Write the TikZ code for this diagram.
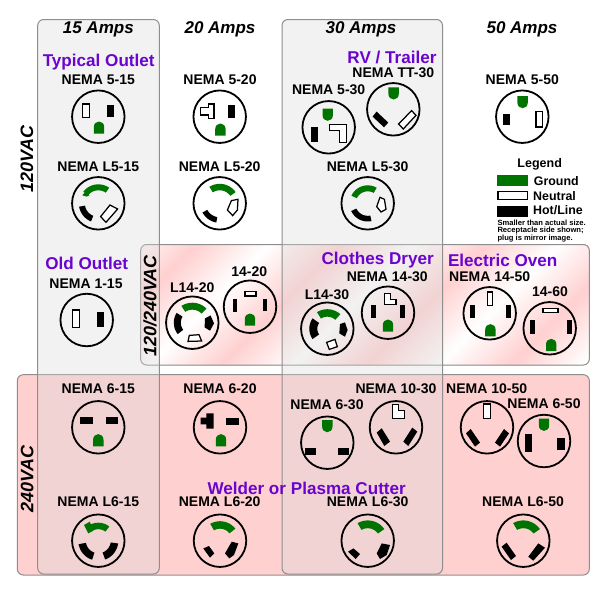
\documentclass[tikz,border=0pt]{standalone}
\usepackage{fontspec}
\setmainfont{Liberation Sans}
\definecolor{gndc}{HTML}{007400}
\definecolor{purp}{HTML}{6A04CE}
\definecolor{pinkc}{HTML}{FFD0D0}
\definecolor{edgec}{HTML}{8E8E8E}
\definecolor{colc}{HTML}{D9D9D9}
\tikzset{
  hot/.style={fill=black},
  neu/.style={draw=black,fill=white,line width=1.25pt,line join=miter},
  gnd/.style={fill=gndc},
  outletc/.style={draw=black,line width=1.8pt,circle,minimum size=52.5pt,inner sep=0pt,outer sep=0pt},
  lab/.style={font=\fontsize{14}{14}\selectfont\bfseries,inner sep=0pt,text=black},
  head/.style={font=\fontsize{17}{17}\selectfont\bfseries\itshape,inner sep=0pt},
  volt/.style={font=\fontsize{18}{18}\selectfont\bfseries\itshape,inner sep=0pt,rotate=90},
  use/.style={font=\fontsize{17.1}{17.1}\selectfont\bfseries,inner sep=0pt,text=purp},
  leg/.style={font=\fontsize{12.4}{12.4}\selectfont\bfseries,inner sep=0pt,anchor=west},
  note/.style={font=\fontsize{7.6}{7.6}\selectfont\bfseries,inner sep=0pt,anchor=west},
  region/.style={draw=edgec,line width=1pt,rounded corners=6pt},
  column/.style={fill=colc,fill opacity=.34,draw=edgec,line width=1pt,rounded corners=6pt}
}
\newcommand{\Outlet}[4]{\node[outletc] (#1) at (#2,#3) {};\begin{scope}[shift={(#2,#3)}]#4\end{scope}}
\newcommand{\rr}[5]{\path[#1] (#2,#3) rectangle (#4,#5);}
\newcommand{\lk}[5]{\path[#1] plot[domain=#4:#5,samples=12] ({#3*cos(\x)},{#3*sin(\x)}) -- plot[domain=#5:#4,samples=12] ({#2*cos(\x)},{#2*sin(\x)}) -- cycle;}
\newcommand{\gup}[2]{\fill[gndc,shift={(#1,#2)}] (-5.2,0) -- (-5.2,-6.5) .. controls (-5.2,-10) and (-2.8,-12.2) .. (0,-12.2) .. controls (2.8,-12.2) and (5.2,-10) .. (5.2,-6.5) -- (5.2,0) -- cycle;}
\newcommand{\gdn}[2]{\fill[gndc,shift={(#1,#2)}] (-5.2,0) -- (-5.2,6.5) .. controls (-5.2,10) and (-2.8,12.2) .. (0,12.2) .. controls (2.8,12.2) and (5.2,10) .. (5.2,6.5) -- (5.2,0) -- cycle;}
\begin{document}
\begin{tikzpicture}[x=1pt,y=-1pt]
\useasboundingbox (0,0) rectangle (602,595);
\fill[white] (0,0) rectangle (602,595);
% 240 V band
\path[region,fill=pinkc] (17.3,374.7) rectangle (589.3,575);
% 120/240 V band with reflected diagonal gradient
\begin{scope}
\clip[rounded corners=6pt] (140.7,244.5) rectangle (589.3,365);
\foreach \t in {384,387,...,966}{
  \pgfmathsetmacro{\d}{mod(\t-440+1450,145)}
  \pgfmathsetmacro{\p}{100*abs(\d/72.5-1)}
  \fill[pinkc!\p!white] ({\t-240},240) -- ({\t-370},370) -- (1000,370) -- (1000,240) -- cycle;
}
\end{scope}
\path[region] (140.7,244.5) rectangle (589.3,365);
% columns
\path[column] (37.7,19.5) rectangle (159.3,574);
\path[column] (282,19.5) rectangle (442.5,574);
% headings
\node[head] (h15) at (98.3,29.5) {15 Amps};
\node[head] (h20) at (220,29.5) {20 Amps};
\node[head] (h30) at (361,29.5) {30 Amps};
\node[head] (h50) at (522,29.5) {50 Amps};
\node[volt] (v120) at (27,159) {120VAC};
\node[volt] (v12240) at (150,306) {120/240VAC};
\node[volt] (v240) at (27.3,479) {240VAC};
% uses
\node[use] (uTyp) at (98.7,62) {Typical Outlet};
\node[use] (uRV) at (392,57.3) {RV / Trailer};
\node[use] (uOld) at (86.7,263.7) {Old Outlet};
\node[use] (uDry) at (377.7,260) {Clothes Dryer};
\node[use] (uOven) at (502.7,260.5) {Electric Oven};
\node[use] (uWeld) at (306.7,488.3) {Welder or Plasma Cutter};
% labels
\node[lab] (t515) at (98.3,79.3) {NEMA 5-15};
\node[lab] (t520) at (220,79.3) {NEMA 5-20};
\node[lab] (tL515) at (98.3,166.7) {NEMA L5-15};
\node[lab] (tL520) at (219.7,166.7) {NEMA L5-20};
\node[lab] (tTT) at (393.3,72.3) {NEMA TT-30};
\node[lab] (t530) at (328.7,90) {NEMA 5-30};
\node[lab] (tL530) at (367.7,166.7) {NEMA L5-30};
\node[lab] (t550) at (522.3,79.3) {NEMA 5-50};
\node[lab] (t115) at (86,283.3) {NEMA 1-15};
\node[lab] (tL1420) at (192.3,287.3) {L14-20};
\node[lab] (t1420) at (249.3,271.7) {14-20};
\node[lab] (tL1430) at (327,295) {L14-30};
\node[lab] (t1430) at (387.3,276.7) {NEMA 14-30};
\node[lab] (t1450) at (489.7,276.7) {NEMA 14-50};
\node[lab] (t1460) at (550,291.7) {14-60};
\node[lab] (t615) at (98.3,389) {NEMA 6-15};
\node[lab] (t620) at (220,389) {NEMA 6-20};
\node[lab] (tL615) at (98.3,502) {NEMA L6-15};
\node[lab] (tL620) at (219.7,502) {NEMA L6-20};
\node[lab] (t630) at (327,405) {NEMA 6-30};
\node[lab] (t1030) at (396,388.7) {NEMA 10-30};
\node[lab] (t1050) at (486.7,388.7) {NEMA 10-50};
\node[lab] (t650) at (544,403.3) {NEMA 6-50};
\node[lab] (tL630) at (367.7,502) {NEMA L6-30};
\node[lab] (tL650) at (523,502) {NEMA L6-50};
% legend
\node[font=\fontsize{12.5}{12.5}\selectfont\bfseries,inner sep=0pt] (legT) at (539.7,164.5) {Legend};
\path[gnd] (497.3,174.7) rectangle (528,185.7);
\path[neu] (498,191.6) rectangle (527.3,199.8);
\path[hot] (497.3,205.7) rectangle (528,216.7);
\node[leg] (legG) at (533.7,181) {Ground};
\node[leg] (legN) at (533,195.7) {Neutral};
\node[leg] (legH) at (533,210) {Hot/Line};
\node[note] (n1) at (497.3,222.7) {Smaller than actual size.};
\node[note] (n2) at (497.3,230.7) {Receptacle side shown;};
\node[note] (n3) at (497.3,238.3) {plug is mirror image.};
% outlets
\Outlet{o515}{98.3}{116.7}{\rr{neu}{-15.6}{-12.7}{-8.6}{0.6}\rr{hot}{9}{-12}{16}{0.3}\gup{0.7}{17}}
\Outlet{o520}{219.7}{116.7}{\path[neu] (-5.6,-12.6)--(-11.3,-12.6)--(-11.3,-9)--(-19.2,-9)--(-19.2,-1.7)--(-11.3,-1.7)--(-11.3,1.9)--(-5.6,1.9)--cycle;\rr{hot}{8.3}{-12}{15}{1}\gup{0.7}{19}}
\Outlet{oL515}{98.3}{203.3}{\lk{gnd}{13}{19}{218}{305}\path[gnd] (-11.7,-13)--(-16,-8)--(-11.7,-6.7)--(-9,-8)--cycle;\lk{hot}{13.5}{19.5}{112}{170}\path[neu] (11.7,1.7)--(19.3,5.7)--(7.7,19)--(2.3,13.3)--cycle;}
\Outlet{oL520}{219.7}{203.3}{\lk{gnd}{13}{19.5}{238}{325}\lk{hot}{14}{19.5}{100}{152}\path[neu] (11.7,-2.7)--(18.3,-4)--(17.7,6.7)--(13,12.3)--(7.7,6.7)--cycle;}
\Outlet{o530}{328.7}{127.3}{\gdn{-1}{-18.7}\rr{hot}{-17.3}{-0.7}{-10.3}{15}\path[neu] (0.7,-2.6)--(18,-2.6)--(18,15)--(10.7,15)--(10.7,3.3)--(0.7,3.3)--cycle;}
\Outlet{oTT}{393.3}{109.3}{\gdn{0.3}{-22}\path[hot] (-16.7,2.3)--(-5,13.3)--(-9.3,18)--(-20.7,7.3)--cycle;\path[neu] (18.3,1.3)--(22.7,6)--(10,19.7)--(5.3,14.7)--cycle;}
\Outlet{oL530}{367.7}{203.3}{\lk{gnd}{12}{18}{205}{300}\path[neu] (12.3,-6)--(16.7,-4)--(18.3,6)--(13.3,8.7)--(9,3.3)--cycle;\lk{hot}{12.5}{18.2}{78}{155}}
\Outlet{o550}{522.3}{116.7}{\gdn{0.3}{-20.7}\rr{hot}{-19}{-2.3}{-12.3}{8.3}\rr{neu}{13.6}{-5.5}{20.4}{10.2}}
\Outlet{o115}{86.7}{320}{\rr{neu}{-14.1}{-10.1}{-7.3}{7.5}\rr{hot}{10.7}{-7.7}{17.3}{6.7}}
\Outlet{oL1420}{192.3}{322.7}{\lk{gnd}{13}{20}{237}{315}\lk{hot}{11.5}{18.5}{142}{212}\path[hot] (12.7,-4.3)--(18.3,-7.3)--(21.7,.7)--(17.7,8)--(12.3,4.7)--cycle;\path[neu] (-3,12.7)--(6.7,12)--(9.3,18.3)--(-4.3,18.7)--cycle;}
\Outlet{o1420}{250}{306.7}{\rr{neu}{-5.1}{-15.4}{6.1}{-10.6}\rr{hot}{-16.7}{-8}{-12.7}{5.3}\rr{hot}{12.7}{-8}{17.3}{4.7}\gup{0}{19}}
\Outlet{oL1430}{327.3}{328.7}{\lk{gnd}{12}{19.5}{238}{312}\lk{hot}{10}{18}{145}{215}\path[hot] (12.7,-4.7)--(17.7,-6.3)--(20.3,1.3)--(17.7,8)--(12,4.7)--cycle;\path[neu] (-0.7,13.7)--(7.7,10.7)--(10,18)--(2,20.7)--cycle;}
\Outlet{o1430}{388}{312.7}{\path[neu] (-3.7,-19)--(2.7,-19)--(2.7,-13.3)--(8,-13.3)--(8,-8)--(-3.7,-8)--cycle;\rr{hot}{-17}{-8}{-12}{5.3}\rr{hot}{12}{-8}{17.3}{5.3}\gup{0}{19}}
\Outlet{o1450}{489.7}{313.3}{\rr{neu}{-2.3}{-21.2}{2.9}{-7.5}\rr{hot}{-20}{-8}{-15}{5}\rr{hot}{16.3}{-8}{21.3}{5}\gup{0.7}{23}}
\Outlet{o1460}{549.7}{328.3}{\rr{neu}{-6.6}{-20.1}{8.2}{-15.6}\rr{hot}{-19.7}{-8}{-14.7}{5.3}\rr{hot}{17}{-8}{22}{5.3}\gup{1.5}{22.7}}
\Outlet{o615}{98.3}{427.3}{\rr{hot}{-18}{-10.3}{-5.7}{-3.7}\rr{hot}{7.7}{-10.3}{20}{-3.7}\gup{0}{19}}
\Outlet{o620}{220}{427.3}{\path[hot] (-6.3,-14)--(-13.7,-14)--(-13.7,-9.7)--(-19.3,-9.7)--(-19.3,-3)--(-13.7,-3)--(-13.7,1.3)--(-6.3,1.3)--cycle;\rr{hot}{6}{-9}{19.3}{-2.3}\gup{1}{19}}
\Outlet{oL615}{98.3}{540.7}{\lk{gnd}{11.5}{18}{240}{308}\path[gnd] (-14.3,-15.7)--(-8.5,-19)--(-5,-10)--(-10,-7.3)--cycle;\lk{hot}{12.5}{20}{108}{170}\lk{hot}{12.5}{20}{8}{70}}
\Outlet{oL620}{220}{540.7}{\lk{gnd}{12}{19.5}{240}{322}\path[hot] (-16.7,7.7)--(-11,5.3)--(-5.7,12.7)--(-10,17)--cycle;\path[hot] (11.7,1)--(18.3,2.7)--(14,14.3)--(9.3,17.7)--(5,12.7)--cycle;}
\Outlet{oL630}{367.7}{540.7}{\lk{gnd}{12.5}{20.3}{240}{325}\path[hot] (-19.7,11)--(-14.3,7.7)--(-7.7,13.3)--(-12,18.3)--cycle;\path[hot] (14,2.7)--(22.3,4.3)--(19,14.3)--(12.3,18.3)--(9,12.7)--cycle;}
\Outlet{oL650}{523.3}{540.7}{\lk{gnd}{12.5}{20.3}{240}{325}\path[hot] (-21.7,6)--(-16.7,2)--(-7.3,15.3)--(-12.3,19.3)--cycle;\path[hot] (15,2.7)--(21.7,7)--(10,20)--(5,16)--cycle;}
\Outlet{o630}{327.3}{442.7}{\gdn{0}{-22.7}\rr{hot}{-22}{5}{-11.7}{12.3}\rr{hot}{11}{5}{21.7}{12.3}}
\Outlet{o1030}{396}{427.3}{\path[neu] (-3.6,-22.9)--(2.7,-22.9)--(2.7,-16.7)--(8.6,-16.7)--(8.6,-8.7)--(-3.6,-8.7)--cycle;\path[hot] (-14.3,1)--(-6,14.3)--(-11.7,18.7)--(-19.3,5.3)--cycle;\path[hot] (16.3,.3)--(21.3,4.3)--(12.3,18.7)--(7.3,14.3)--cycle;}
\Outlet{o1050}{487}{427.3}{\rr{neu}{-3.7}{-23.4}{3.7}{-8.6}\path[hot] (-16.3,1.7)--(-7,15.3)--(-12,19.3)--(-21,6)--cycle;\path[hot] (17,1.7)--(22,6)--(13,19.3)--(8,15.3)--cycle;}
\Outlet{o650}{544}{441}{\gdn{0}{-22.3}\rr{hot}{-19}{-6.7}{-12}{11.3}\rr{hot}{13.3}{-2.7}{20.7}{9}}
\end{tikzpicture}
\end{document}
